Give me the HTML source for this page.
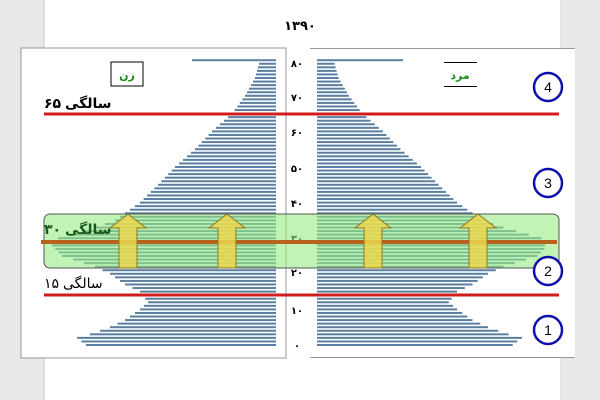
<!DOCTYPE html>
<html><head><meta charset="utf-8"><style>
html,body{margin:0;padding:0;background:#e8e8e8;}
svg{display:block}
text{font-family:"Liberation Sans","DejaVu Sans",sans-serif;}
</style></head><body>
<svg id="s" width="600" height="400" xmlns="http://www.w3.org/2000/svg">
<rect x="0" y="0" width="600" height="400" fill="#e8e8e8"/>
<rect x="44" y="0" width="518" height="400" fill="#fff"/>
<line x1="44" y1="0" x2="44" y2="400" stroke="#c8c8c8"/>
<line x1="561" y1="0" x2="561" y2="400" stroke="#c8c8c8"/>
<rect x="21" y="55" width="265" height="127" fill="#fff"/>
<rect x="310" y="55" width="265" height="127" fill="#fff"/>
<rect x="21" y="48" width="265" height="310" fill="#fff" stroke="#999" stroke-width="1"/>
<rect x="310" y="48" width="265" height="310" fill="#fff"/>
<line x1="310" y1="48.5" x2="575" y2="48.5" stroke="#999"/>
<line x1="310" y1="357.5" x2="575" y2="357.5" stroke="#999"/>
<text x="300" y="30" font-size="13" font-weight="bold" text-anchor="middle">۱۳۹۰</text>
<g id="bars"></g>
<g font-size="10" font-weight="bold" text-anchor="middle" fill="#000">
<text x="297" y="67">۸۰</text><text x="297" y="101">۷۰</text><text x="297" y="136">۶۰</text>
<text x="297" y="172">۵۰</text><text x="297" y="207">۴۰</text><text x="297" y="242">۳۰</text>
<text x="297" y="276">۲۰</text><text x="297" y="314">۱۰</text><text x="297" y="349">۰</text>
</g>
<rect x="111" y="62" width="32" height="24" fill="#fff" stroke="#000"/>
<text x="127" y="79" font-size="11" font-weight="bold" fill="#1a8a1a" text-anchor="middle">زن</text>
<line x1="444" y1="62.5" x2="477" y2="62.5" stroke="#000"/>
<line x1="444" y1="86.5" x2="477" y2="86.5" stroke="#000"/>
<text x="460" y="79" font-size="11" font-weight="bold" fill="#1a8a1a" text-anchor="middle">مرد</text>
<rect x="44" y="214" width="515" height="54" rx="6" fill="rgba(150,235,130,0.6)" stroke="#555"/>
<line x1="44" y1="114" x2="559" y2="114" stroke="#d21c1c" stroke-width="3"/>
<line x1="44" y1="295" x2="559" y2="295" stroke="#d21c1c" stroke-width="3"/>
<line x1="41" y1="242" x2="557" y2="242" stroke="#b8621e" stroke-width="4"/>
<g id="arrows"></g>
<g font-size="14" font-weight="bold">
<text x="44" y="108">۶۵ سالگی</text>
<text x="44" y="234" fill="#1a5a1a">۳۰ سالگی</text>
<text x="44" y="288" font-weight="normal">۱۵ سالگی</text>
</g>
<g fill="#fff" stroke="#1010b0" stroke-width="2.5" font-size="14">
<circle cx="548" cy="87" r="14"/><circle cx="548" cy="183" r="14"/>
<circle cx="548" cy="271" r="14"/><circle cx="548" cy="330" r="14"/>
</g>
<g font-size="14" text-anchor="middle" fill="#000">
<text x="548" y="92">4</text><text x="548" y="188">3</text>
<text x="548" y="276">2</text><text x="548" y="335">1</text>
</g>
</svg>
<script>
var ns="http://www.w3.org/2000/svg";
var pts=[[0,86],[2,77],[3,90],[5,110],[7,125],[10,140],[12,148],[15,140],[17,125],[20,110],[22,95],[25,62],[28,52],[30,58],[33,95],[35,115],[40,140],[45,158],[50,175],[55,195],[60,212],[65,232],[70,245],[75,255],[79,259]];
function lf(a){for(var i=0;i<pts.length-1;i++){if(a>=pts[i][0]&&a<=pts[i+1][0]){var t=(a-pts[i][0])/(pts[i+1][0]-pts[i][0]);return pts[i][1]+t*(pts[i+1][1]-pts[i][1]);}}return 259;}
var g=document.getElementById("bars");
for(var a=0;a<=80;a++){
 var y=344-a*3.56;var L=a==80?192:lf(a);var R=a==80?403:317+(276-L)*1.03;
 var r=document.createElementNS(ns,"rect");r.setAttribute("x",L);r.setAttribute("y",y);r.setAttribute("width",276-L);r.setAttribute("height",2);r.setAttribute("fill","#5b7fa2");g.appendChild(r);
 r=document.createElementNS(ns,"rect");r.setAttribute("x",317);r.setAttribute("y",y);r.setAttribute("width",Math.min(R,545)-317);r.setAttribute("height",2);r.setAttribute("fill","#5b7fa2");g.appendChild(r);
}
var ag=document.getElementById("arrows");
[128,227,373,478].forEach(function(cx){
 var p=document.createElementNS(ns,"polygon");
 p.setAttribute("points",[cx-9,268,cx+9,268,cx+9,228,cx+18,228,cx,214,cx-18,228,cx-9,228].join(" ").replace(/(\d+) (\d+)/g,"$1,$2"));
 p.setAttribute("fill","rgba(235,215,80,0.85)");p.setAttribute("stroke","#8a7a20");ag.appendChild(p);
});
</script>
</body></html>
